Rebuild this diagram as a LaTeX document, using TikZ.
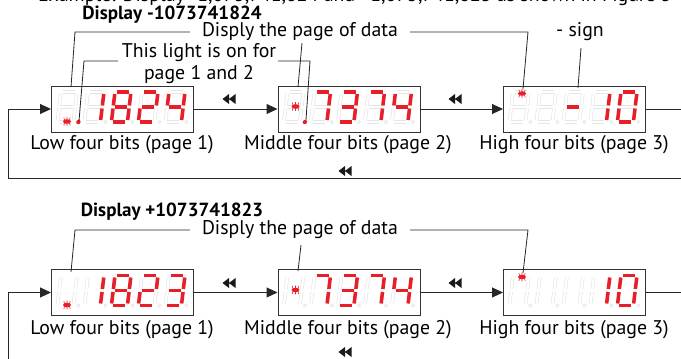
\documentclass[tikz,border=0pt]{standalone}
\usepackage{fontspec}
\setmainfont{PT Sans}
\usetikzlibrary{arrows.meta}

\definecolor{ledred}{RGB}{232,30,40}

% segments of one cell: x1/y1/x2/y2 (a b c d e f g)
\newcommand{\segall}{2/0/14/0, 16/2/16/13.5, 16/16.5/16/28, 2/30/14/30, 0/16.5/0/28, 0/2/0/13.5, 2/15/14/15}
\newcommand{\segzero}{2/0/14/0, 16/2/16/13.5, 16/16.5/16/28, 2/30/14/30, 0/16.5/0/28, 0/2/0/13.5}
\newcommand{\segone}{16/2/16/13.5, 16/16.5/16/28}
\newcommand{\segtwo}{2/0/14/0, 16/2/16/13.5, 2/15/14/15, 0/16.5/0/28, 2/30/14/30}
\newcommand{\segthree}{2/0/14/0, 16/2/16/13.5, 2/15/14/15, 16/16.5/16/28, 2/30/14/30}
\newcommand{\segfour}{0/2/0/13.5, 2/15/14/15, 16/2/16/13.5, 16/16.5/16/28}
\newcommand{\segseven}{2/0/14/0, 16/2/16/13.5, 16/16.5/16/28}
\newcommand{\segminus}{2/15/14/15}

% unlit cell: box, cell number
\newcommand{\ghostcell}[2]{%
  \begin{scope}[shift={(#1.north west)}, shift={({10+27*(#2-1)},6.5)}, xslant=0.12]
    \foreach \ax/\ay/\bx/\by in \segall {\draw[ghostseg] (\ax,\ay) -- (\bx,\by);}
    \draw[black!10, line width=0.7pt] (21,30) circle (1.6);
  \end{scope}}

% lit digit: box, cell number, segments
\newcommand{\leddigit}[3]{%
  \begin{scope}[shift={(#1.north west)}, shift={({10+27*(#2-1)},6.5)}, xslant=0.12]
    \foreach \ax/\ay/\bx/\by in #3 {\draw[litseg] (\ax,\ay) -- (\bx,\by);}
  \end{scope}}

% lit decimal point: box, cell number
\newcommand{\leddot}[2]{%
  \begin{scope}[shift={(#1.north west)}, shift={({10+27*(#2-1)},6.5)}, xslant=0.12]
    \fill[ledred] (21,30) circle (2.2);
  \end{scope}}

% page light: box, dx, dy
\newcommand{\pageled}[3]{%
  \begin{scope}[shift={(#1.north west)}, shift={(#2,#3)}]
    \fill[ledred] (0,0) ellipse (4 and 2.3);
    \draw[ledred, line width=0.6pt] (-2.5,-1.5) -- (-3.2,-4) (0,-2) -- (0,-4.3) (2.5,-1.5) -- (3.2,-4)
      (-2.5,1.5) -- (-3.2,4) (0,2) -- (0,4.3) (2.5,1.5) -- (3.2,4);
  \end{scope}}

% double left triangle
\newcommand{\rewind}[1]{%
  \begin{scope}[shift={#1}]
    \fill[black!90] (-6.5,0) -- (0,-5) -- (0,5) -- cycle (0,0) -- (6.5,-5) -- (6.5,5) -- cycle;
  \end{scope}}

\begin{document}
\begin{tikzpicture}[x=1pt, y=-1pt,
  lbl/.style={font=\fontsize{19.8}{22}\selectfont, inner sep=0pt},
  ttl/.style={font=\fontsize{19}{22}\selectfont\bfseries, inner sep=0pt},
  display/.style={draw=black!80, line width=1pt, minimum width=142pt, minimum height=46pt, inner sep=0pt},
  conn/.style={-{Triangle[length=11pt,width=10pt]}, line width=1pt, black!85},
  leader/.style={line width=0.8pt, black!85},
  litseg/.style={ledred, line width=3.5pt},
  ghostseg/.style={draw=black!10, line width=0.7pt, double=white, double distance=2.2pt}]

  \clip (0,0) rectangle (681,359);
  \fill[white] (0,0) rectangle (681,359);

  % Cut-off text line
  \node[lbl, anchor=base east] (intro) at (672,1) {Example: Display -1,073,741,824 and +1,073,741,823 as shown in Figure 5};

  % ---------- Display -1073741824 ----------
  \node[ttl] (title1) at (172,15) {Display -1073741824};
  \node[lbl, inner xsep=12pt] (pg1) at (300,32) {Disply the page of data};
  \node[lbl, align=center] (light) at (199,64) {This light is on for\\page 1 and 2};
  \node[lbl] (sign) at (580,32) {- sign};

  \node[display] (lo1) at (122.5,109) {};
  \node[display] (mid1) at (349,109) {};
  \node[display] (hi1) at (574.5,109) {};

  \node[lbl] (cap11) at (122,145) {Low four bits (page 1)};
  \node[lbl] (cap12) at (348,145) {Middle four bits (page 2)};
  \node[lbl] (cap13) at (574,145) {High four bits (page 3)};

  % ---------- Display +1073741823 ----------
  \node[ttl] (title2) at (172,212) {Display +1073741823};
  \node[lbl, inner xsep=12pt] (pg2) at (300,230) {Disply the page of data};

  \node[display] (lo2) at (122.5,292.5) {};
  \node[display] (mid2) at (349,292.5) {};
  \node[display] (hi2) at (574.5,292.5) {};

  \node[lbl] (cap21) at (122,330) {Low four bits (page 1)};
  \node[lbl] (cap22) at (348,330) {Middle four bits (page 2)};
  \node[lbl] (cap23) at (574,330) {High four bits (page 3)};

  % Unlit cells
  \foreach \b in {lo1,mid1,hi1,lo2,mid2,hi2}
    \foreach \c in {1,...,5} {\ghostcell{\b}{\c}}

  % Lit digits, top
  \leddigit{lo1}{2}{\segone}  \leddigit{lo1}{3}{\segall}
  \leddigit{lo1}{4}{\segtwo}  \leddigit{lo1}{5}{\segfour}
  \leddigit{mid1}{2}{\segseven} \leddigit{mid1}{3}{\segthree}
  \leddigit{mid1}{4}{\segseven} \leddigit{mid1}{5}{\segfour}
  \leddigit{hi1}{3}{\segminus} \leddigit{hi1}{4}{\segone}
  \leddigit{hi1}{5}{\segzero}
  \leddot{lo1}{1} \leddot{mid1}{1}

  % Lit digits, bottom
  \leddigit{lo2}{2}{\segone}  \leddigit{lo2}{3}{\segall}
  \leddigit{lo2}{4}{\segtwo}  \leddigit{lo2}{5}{\segthree}
  \leddigit{mid2}{2}{\segseven} \leddigit{mid2}{3}{\segthree}
  \leddigit{mid2}{4}{\segseven} \leddigit{mid2}{5}{\segfour}
  \leddigit{hi2}{4}{\segone}  \leddigit{hi2}{5}{\segzero}

  % Page lights
  \pageled{lo1}{16}{36} \pageled{mid1}{18}{21} \pageled{hi1}{19}{8}
  \pageled{lo2}{16}{36} \pageled{mid2}{18}{21} \pageled{hi2}{19}{8}

  % Leader lines, top
  \coordinate (k11) at (75,32);   \coordinate (e11) at (71,87);
  \coordinate (k12) at (528,32);  \coordinate (e12) at (523,89);
  \coordinate (k13) at (302,43);  \coordinate (e13) at (298,87);
  \coordinate (s14) at (118,61);  \coordinate (k14) at (84,61);  \coordinate (e14) at (79,121);
  \coordinate (s15) at (278,61);  \coordinate (k15) at (310,61); \coordinate (e15) at (306,120);
  \coordinate (s16) at (581,48);  \coordinate (e16) at (578,88);
  \draw[leader] (pg1.west) -- (k11) -- (e11);
  \draw[leader] (pg1.east) -- (k12) -- (e12);
  \draw[leader] (k13) -- (e13);
  \draw[leader] (s14) -- (k14) -- (e14);
  \draw[leader] (s15) -- (k15) -- (e15);
  \draw[leader] (s16) -- (e16);

  % Leader lines, bottom
  \coordinate (k21) at (75,230);  \coordinate (e21) at (71,272);
  \coordinate (k22) at (528,230); \coordinate (e22) at (523,273);
  \coordinate (k23) at (301,245); \coordinate (e23) at (298,271);
  \draw[leader] (pg2.west) -- (k21) -- (e21);
  \draw[leader] (pg2.east) -- (k22) -- (e22);
  \draw[leader] (k23) -- (e23);

  % Page order, top
  \coordinate (loopr1) at (700,109);
  \coordinate (loopl1) at (8,178);
  \draw[conn] (lo1.east) -- (mid1.west);
  \draw[conn] (mid1.east) -- (hi1.west);
  \draw[conn] (hi1.east) -- (loopr1) |- (loopl1) |- (lo1.west);
  \rewind{(229,99)} \rewind{(455,99)} \rewind{(345,171)}

  % Page order, bottom
  \coordinate (loopr2) at (700,292.5);
  \coordinate (loopl2) at (8,372);
  \draw[conn] (lo2.east) -- (mid2.west);
  \draw[conn] (mid2.east) -- (hi2.west);
  \draw[conn] (hi2.east) -- (loopr2) |- (loopl2) |- (lo2.west);
  \rewind{(229,283)} \rewind{(455,283)} \rewind{(345,352)}
\end{tikzpicture}
\end{document}
